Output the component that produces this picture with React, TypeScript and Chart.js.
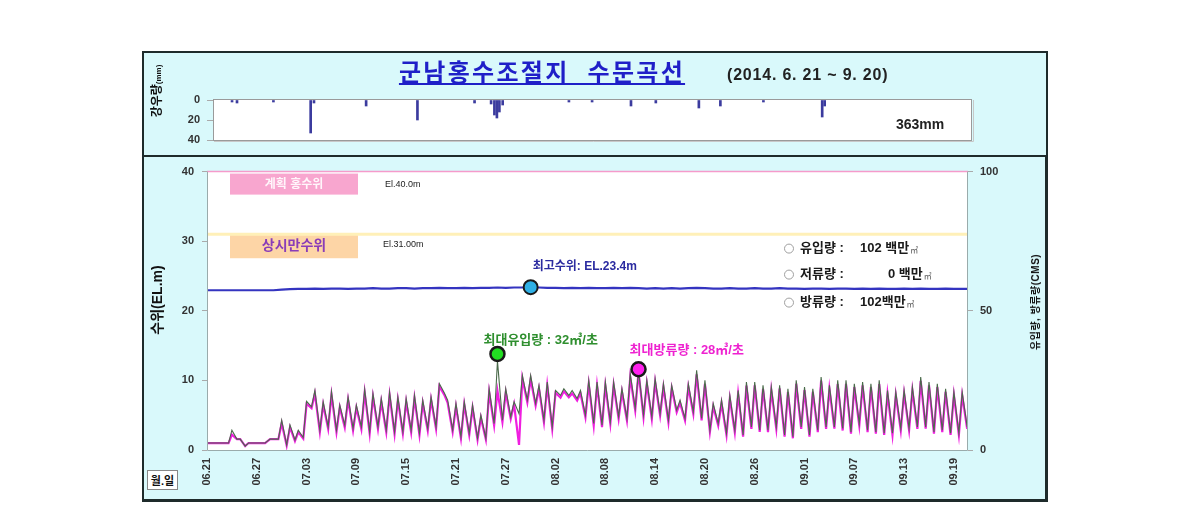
import React, { useEffect, useRef } from 'react';
import { Chart, registerables } from 'chart.js';

Chart.register(...registerables);

const FONT = "'Liberation Sans', 'Noto Sans CJK KR', sans-serif";
const BG = '#d9f9fb';

// x values are days since 06.21 00:00
const DAY_MAX = 91.7;
const LOW_OFFSET = 0.6;

const dateLabels = ['06.21', '06.27', '07.03', '07.09', '07.15', '07.21', '07.27', '08.02', '08.08', '08.14', '08.20', '08.26', '09.01', '09.07', '09.13', '09.19'];
const dateTickDays = [0, 6, 12, 18, 24, 30, 36, 42, 48, 54, 60, 66, 72, 78, 84, 90];

// rainfall (mm)
const rainTime = [2.3, 2.9, 7.3, 11.8, 12.2, 18.5, 24.7, 31.6, 33.6, 34.0, 34.3, 34.6, 35.0, 43.0, 45.8, 50.5, 53.5, 58.7, 61.3, 66.5, 73.6, 73.9];
const rainMm = [2, 3, 2, 33, 3, 6, 20, 3, 4, 15, 18, 12, 5, 2, 2, 6, 3, 8, 6, 2, 17, 6];
const rainTotalLabel = '363mm';

// water level (EL.m)
const planFloodLevel = 40;
const normalHighLevel = 31;
const levelDaily = [
  22.95, 22.95, 22.95, 22.95, 22.95, 22.95, 22.95, 22.95, 22.95, 23.05,
  23.1, 23.15, 23.15, 23.2, 23.15, 23.2, 23.2, 23.15, 23.2, 23.2,
  23.25, 23.2, 23.2, 23.25, 23.25, 23.2, 23.25, 23.25, 23.3, 23.25,
  23.25, 23.3, 23.25, 23.3, 23.3, 23.35, 23.3, 23.35, 23.35, 23.4,
  23.35, 23.3, 23.3, 23.25, 23.3, 23.25, 23.3, 23.25, 23.25, 23.3,
  23.25, 23.3, 23.25, 23.2, 23.25, 23.2, 23.25, 23.2, 23.25, 23.3,
  23.25, 23.2, 23.2, 23.25, 23.2, 23.2, 23.25, 23.2, 23.2, 23.25,
  23.2, 23.2, 23.15, 23.2, 23.2, 23.15, 23.2, 23.2, 23.15, 23.2,
  23.15, 23.2, 23.15, 23.15, 23.2, 23.15, 23.2, 23.15, 23.15, 23.2,
  23.15, 23.15,
];

// inflow / outflow (CMS): daily high (at day start) and daily low
const inflowPeak = [
  2.5, 2.5, 2.5, 7.1, 3.9, 2.5, 2.5, 2.5, 3.9, 10.7,
  9.0, 7.1, 17.5, 21.4, 17.3, 21.0, 16.1, 19.0, 16.1, 21.8,
  20.2, 18.5, 20.8, 19.0, 18.5, 19.6, 17.9, 19.0, 23.8, 17.9,
  16.7, 17.3, 16.1, 12.5, 22.0, 32.0, 22.0, 17.3, 26.8, 26.8,
  23.2, 24.4, 21.4, 22.0, 21.4, 21.4, 25.0, 24.4, 24.4, 24.4,
  22.0, 27.4, 28.6, 25.0, 25.6, 23.8, 23.2, 17.9, 23.8, 28.6,
  25.0, 16.7, 17.9, 19.6, 21.4, 24.4, 24.4, 23.2, 22.6, 23.2,
  22.0, 25.0, 22.6, 22.0, 26.2, 23.2, 25.0, 25.0, 23.8, 24.4,
  23.8, 25.0, 21.4, 20.8, 21.4, 22.6, 26.2, 24.4, 23.8, 22.0,
  20.8, 20.8,
];
const inflowLow = [
  2.5, 2.5, 2.5, 3.9, 1.4, 2.5, 2.5, 3.9, 3.9, 1.8,
  3.6, 4.5, 15.5, 7.1, 8.3, 7.1, 8.9, 7.7, 8.3, 6.5,
  8.3, 7.1, 6.5, 6.5, 7.1, 6.0, 7.7, 8.3, 20.5, 7.1,
  4.8, 6.0, 4.2, 4.2, 9.5, 10.7, 11.9, 13.0, 18.0, 16.7,
  10.7, 8.3, 19.6, 19.6, 18.5, 12.5, 9.5, 8.9, 10.1, 11.9,
  11.3, 15.0, 12.5, 11.9, 13.1, 10.7, 14.3, 11.3, 13.7, 11.3,
  7.1, 9.5, 6.0, 7.1, 5.4, 8.3, 7.1, 7.1, 8.3, 5.4,
  4.8, 8.3, 5.4, 7.1, 8.3, 8.3, 7.7, 6.5, 9.5, 7.1,
  6.5, 6.0, 6.0, 7.7, 7.7, 8.3, 8.3, 6.5, 7.1, 6.0,
  6.0, 8.3,
];
const outflowPeak = [
  2.5, 2.5, 2.5, 5.5, 3.9, 2.5, 2.5, 2.5, 3.9, 9.6,
  8.2, 6.4, 16.6, 20.2, 16.3, 19.8, 15.4, 18.1, 15.2, 20.6,
  19.1, 17.4, 19.7, 18.0, 17.3, 18.6, 16.8, 18.1, 22.9, 16.9,
  15.6, 16.4, 15.1, 11.6, 20.7, 21.2, 20.6, 16.4, 25.7, 25.4,
  22.1, 23.2, 20.6, 21.1, 20.3, 20.4, 23.7, 23.2, 23.1, 23.3,
  20.9, 26.1, 28.0, 23.9, 24.4, 22.6, 22.1, 16.9, 22.6, 27.2,
  23.8, 15.6, 16.8, 18.5, 20.2, 23.1, 23.2, 22.0, 21.4, 22.1,
  20.8, 23.8, 21.5, 20.9, 24.9, 22.0, 23.7, 23.8, 22.6, 23.2,
  22.6, 23.7, 20.2, 19.7, 20.3, 21.4, 24.8, 23.2, 22.6, 20.9,
  19.7, 19.6,
];
const outflowLow = [
  2.5, 2.5, 2.5, 3.9, 1.4, 2.5, 2.5, 3.9, 3.9, 1.6,
  3.2, 4.1, 15.0, 6.5, 7.6, 6.4, 8.1, 7.0, 7.5, 5.9,
  7.6, 6.5, 5.8, 5.9, 6.4, 5.4, 7.0, 7.6, 19.8, 6.5,
  4.2, 5.4, 3.7, 3.8, 8.8, 10.0, 11.2, 1.8, 17.1, 15.9,
  10.0, 7.6, 18.8, 18.9, 17.8, 11.8, 8.8, 8.2, 9.4, 11.2,
  10.6, 14.2, 11.8, 11.2, 12.4, 10.0, 13.6, 10.6, 13.0, 10.6,
  6.5, 8.8, 5.4, 6.4, 4.8, 7.6, 6.5, 6.4, 7.6, 4.8,
  4.2, 7.6, 4.8, 6.4, 7.6, 7.7, 7.0, 5.9, 8.8, 6.4,
  5.9, 5.4, 5.4, 7.0, 7.1, 7.6, 7.7, 5.9, 6.4, 5.4,
  5.4, 7.6,
];

// peak markers: [max level, max inflow, max outflow]
const peakMarkDay = [39, 35, 52];
const peakMarkValue = [23.4, 34.5, 29.0];
const peakMarkLabel = ['최고수위: EL.23.4m', '최대유입량 : 32㎥/초', '최대방류량 : 28㎥/초'];

const volumeNames = ['유입량 :', '저류량 :', '방류량 :'];
const volumeValues = ['102 백만', '0 백만', '102백만'];

function buildFlow(peak: number[], low: number[]) {
  const out: { x: number; y: number }[] = [];
  for (let d = 0; d < peak.length; d++) {
    out.push({ x: d, y: peak[d] });
    out.push({ x: d + LOW_OFFSET, y: low[d] });
  }
  return out;
}

const mainDecor = {
  id: 'mainDecor',
  beforeDraw(chart: any) {
    const { ctx, chartArea: a } = chart;
    ctx.save();
    ctx.fillStyle = '#ffffff';
    ctx.fillRect(a.left, a.top, a.right - a.left, a.bottom - a.top);
    ctx.restore();
  },
  beforeDatasetsDraw(chart: any) {
    const { ctx, chartArea: a, scales } = chart;
    const yPlan = scales.y.getPixelForValue(planFloodLevel);
    const yNormal = scales.y.getPixelForValue(normalHighLevel);
    ctx.save();
    ctx.fillStyle = '#f8a6cf';
    ctx.fillRect(a.left + 23, yPlan + 2, 128, 21);
    ctx.fillStyle = '#fdd5a6';
    ctx.fillRect(a.left + 23, yNormal - 1, 128, 25);
    ctx.textAlign = 'center';
    ctx.textBaseline = 'middle';
    ctx.font = `bold 12px ${FONT}`;
    ctx.fillStyle = '#fff6fb';
    ctx.fillText('계획 홍수위', a.left + 87, yPlan + 13);
    ctx.font = `bold 14px ${FONT}`;
    ctx.fillStyle = '#8a3db8';
    ctx.fillText('상시만수위', a.left + 87, yNormal + 12);
    ctx.textAlign = 'left';
    ctx.font = `9px ${FONT}`;
    ctx.fillStyle = '#222';
    ctx.fillText('El.40.0m', a.left + 178, yPlan + 13);
    ctx.fillText('El.31.00m', a.left + 176, yNormal + 10);

    // volume summary
    const rowY = [77, 103, 131];
    const valueX = [-108, -80, -108];
    for (let i = 0; i < volumeNames.length; i++) {
      const yy = a.top + rowY[i];
      ctx.beginPath();
      ctx.arc(a.right - 179, yy, 4.5, 0, Math.PI * 2);
      ctx.fillStyle = '#fff';
      ctx.fill();
      ctx.strokeStyle = '#a0a0a0';
      ctx.lineWidth = 1;
      ctx.stroke();
      ctx.fillStyle = '#1a1a1a';
      ctx.font = `bold 13px ${FONT}`;
      ctx.fillText(volumeNames[i], a.right - 168, yy);
      ctx.fillText(volumeValues[i], a.right + valueX[i], yy);
      const w = ctx.measureText(volumeValues[i]).width;
      ctx.font = `8px ${FONT}`;
      ctx.fillStyle = '#555';
      ctx.fillText('㎥', a.right + valueX[i] + w + 1, yy + 2);
    }
    ctx.restore();
  },
  afterDatasetsDraw(chart: any) {
    const { ctx, chartArea: a, scales } = chart;
    ctx.save();
    ctx.strokeStyle = '#9aabab';
    ctx.lineWidth = 1;
    ctx.beginPath();
    ctx.moveTo(a.left + 0.5, a.top);
    ctx.lineTo(a.left + 0.5, a.bottom + 0.5);
    ctx.lineTo(a.right - 0.5, a.bottom + 0.5);
    ctx.lineTo(a.right - 0.5, a.top);
    ctx.stroke();

    const axes = ['y', 'y2', 'y2'];
    const dx = [2, -14, -9];
    const dy = [-20, -14, -19];
    const colors = ['#2b2ba0', '#2f8f2f', '#ee22d0'];
    const sizes = [12, 13, 13];
    ctx.textAlign = 'left';
    ctx.textBaseline = 'middle';
    for (let i = 0; i < peakMarkLabel.length; i++) {
      const px = scales.x.getPixelForValue(peakMarkDay[i]);
      const py = scales[axes[i]].getPixelForValue(peakMarkValue[i]);
      ctx.font = `bold ${sizes[i]}px ${FONT}`;
      ctx.fillStyle = colors[i];
      ctx.fillText(peakMarkLabel[i], px + dx[i], py + dy[i]);
    }
    ctx.restore();
  },
};

const topDecor = {
  id: 'topDecor',
  beforeDraw(chart: any) {
    const { ctx, chartArea: a } = chart;
    ctx.save();
    ctx.fillStyle = '#ffffff';
    ctx.fillRect(a.left, a.top - 1, a.right - a.left, a.bottom - a.top + 1);
    ctx.restore();
  },
  afterDatasetsDraw(chart: any) {
    const { ctx, chartArea: a } = chart;
    ctx.save();
    ctx.strokeStyle = '#9a9a9a';
    ctx.lineWidth = 1;
    ctx.strokeRect(a.left + 0.5, a.top - 0.5, a.right - a.left - 1, a.bottom - a.top + 1);
    ctx.strokeStyle = '#c8c8c8';
    ctx.beginPath();
    ctx.moveTo(a.left + 1, a.bottom + 1.5);
    ctx.lineTo(a.right + 1.5, a.bottom + 1.5);
    ctx.lineTo(a.right + 1.5, a.top);
    ctx.stroke();
    ctx.restore();
  },
};

const tickFont = { family: FONT, size: 11, weight: 'bold' as const };

export default function App() {
  const topRef = useRef<HTMLCanvasElement | null>(null);
  const mainRef = useRef<HTMLCanvasElement | null>(null);

  useEffect(() => {
    if (!topRef.current || !mainRef.current) return;

    const rainChart = new Chart(topRef.current, {
      type: 'bar',
      data: {
        datasets: [
          {
            data: rainTime.map((t, i) => ({ x: t, y: rainMm[i] })) as any,
            backgroundColor: '#3b3b9e',
            barThickness: 2,
          },
        ],
      },
      options: {
        responsive: false,
        animation: false,
        layout: { padding: { top: 48, bottom: 15, left: 0, right: 75 } },
        plugins: { legend: { display: false }, tooltip: { enabled: false } },
        scales: {
          x: { type: 'linear', min: 0, max: DAY_MAX, display: false, offset: false },
          y: {
            min: 0,
            max: 40,
            reverse: true,
            ticks: { stepSize: 20, padding: 7, color: '#333', font: tickFont },
            grid: { drawOnChartArea: false, tickLength: 6, color: '#aaa' },
            border: { display: false },
            afterFit: (s: any) => {
              s.width = 70;
            },
          },
        },
      },
      plugins: [topDecor],
    } as any);

    const mainChart = new Chart(mainRef.current, {
      type: 'line',
      data: {
        datasets: [
          {
            label: '최고수위',
            data: [{ x: peakMarkDay[0], y: peakMarkValue[0] }],
            yAxisID: 'y',
            showLine: false,
            pointRadius: 7,
            pointBackgroundColor: '#2fb0e6',
            pointBorderColor: '#1a1a1a',
            pointBorderWidth: 2,
          },
          {
            label: '최대유입량',
            data: [{ x: peakMarkDay[1], y: peakMarkValue[1] }],
            yAxisID: 'y2',
            showLine: false,
            pointRadius: 7,
            pointBackgroundColor: '#22dd22',
            pointBorderColor: '#1a1a1a',
            pointBorderWidth: 2.5,
          },
          {
            label: '최대방류량',
            data: [{ x: peakMarkDay[2], y: peakMarkValue[2] }],
            yAxisID: 'y2',
            showLine: false,
            pointRadius: 7,
            pointBackgroundColor: '#ff22ee',
            pointBorderColor: '#1a1a1a',
            pointBorderWidth: 2.5,
          },
          {
            label: '수위',
            data: [
              ...levelDaily.map((v, d) => ({ x: d, y: v })),
              { x: DAY_MAX, y: levelDaily[levelDaily.length - 1] },
            ],
            yAxisID: 'y',
            borderColor: '#3434c0',
            borderWidth: 2.2,
            pointRadius: 0,
          },
          {
            label: '유입량',
            data: buildFlow(inflowPeak, inflowLow),
            yAxisID: 'y2',
            borderColor: '#4a6a4a',
            borderWidth: 1.1,
            pointRadius: 0,
          },
          {
            label: '방류량',
            data: buildFlow(outflowPeak, outflowLow),
            yAxisID: 'y2',
            borderColor: '#f01ee0',
            borderWidth: 2.2,
            pointRadius: 0,
          },
          {
            label: '계획홍수위',
            data: [
              { x: 0, y: planFloodLevel },
              { x: DAY_MAX, y: planFloodLevel },
            ],
            yAxisID: 'y',
            borderColor: '#f59bcb',
            borderWidth: 1.5,
            pointRadius: 0,
            clip: false,
          },
          {
            label: '상시만수위',
            data: [
              { x: 0, y: normalHighLevel },
              { x: DAY_MAX, y: normalHighLevel },
            ],
            yAxisID: 'y',
            borderColor: '#fff0b8',
            borderWidth: 3,
            pointRadius: 0,
          },
        ],
      },
      options: {
        responsive: false,
        animation: false,
        layout: { padding: { top: 13, bottom: 0, left: 0, right: 0 } },
        plugins: { legend: { display: false }, tooltip: { enabled: false } },
        elements: { line: { tension: 0 } },
        scales: {
          x: {
            type: 'linear',
            min: 0,
            max: DAY_MAX,
            afterBuildTicks: (s: any) => {
              s.ticks = dateTickDays.map((v) => ({ value: v }));
            },
            afterFit: (s: any) => {
              s.height = 50;
            },
            ticks: {
              autoSkip: false,
              minRotation: 90,
              maxRotation: 90,
              padding: 8,
              color: '#333',
              font: tickFont,
              callback: (v: any) => {
                const i = dateTickDays.indexOf(Number(v));
                return i >= 0 ? dateLabels[i] : '';
              },
            },
            grid: { display: false, drawTicks: false },
            border: { display: false },
          },
          y: {
            position: 'left',
            min: 0,
            max: 40,
            ticks: { stepSize: 10, padding: 8, color: '#333', font: tickFont },
            grid: { drawOnChartArea: false, tickLength: 5, color: '#aaa' },
            border: { display: false },
            afterFit: (s: any) => {
              s.width = 64;
            },
          },
          y2: {
            position: 'right',
            min: 0,
            max: 100,
            ticks: { stepSize: 50, padding: 7, color: '#333', font: tickFont },
            grid: { drawOnChartArea: false, tickLength: 5, color: '#aaa' },
            border: { display: false },
            afterFit: (s: any) => {
              s.width = 79;
            },
          },
        },
      },
      plugins: [mainDecor],
    } as any);

    return () => {
      rainChart.destroy();
      mainChart.destroy();
    };
  }, []);

  const abs = { position: 'absolute' as const };
  const rot = (x: number, y: number) => ({
    ...abs,
    left: x,
    top: y,
    transform: 'translate(-50%, -50%) rotate(-90deg)',
    whiteSpace: 'nowrap' as const,
    fontFamily: FONT,
    fontWeight: 'bold' as const,
    color: '#111',
    lineHeight: 1,
  });

  return (
    <div>
      <div style={{ ...abs, left: 142, top: 51, width: 906, height: 106, background: BG, border: '2px solid #1e2b2b', boxSizing: 'border-box' }} />
      <div style={{ ...abs, left: 142, top: 155, width: 906, height: 347, background: BG, border: '2px solid #1e2b2b', borderRightWidth: 3, borderBottomWidth: 3, boxSizing: 'border-box' }} />
      <canvas ref={topRef} width={904} height={103} style={{ ...abs, left: 143, top: 52, width: 904, height: 103 }} />
      <canvas ref={mainRef} width={904} height={343} style={{ ...abs, left: 143, top: 157, width: 904, height: 343 }} />

      <div
        style={{
          ...abs,
          left: 542,
          top: 73,
          transform: 'translate(-50%, -50%)',
          whiteSpace: 'pre',
          fontFamily: FONT,
          fontWeight: 'bold',
          fontSize: 24,
          letterSpacing: 2.3,
          color: '#1f1fc8',
          textDecoration: 'underline',
          lineHeight: 1,
        }}
      >
        군남홍수조절지  수문곡선
      </div>
      <div style={{ ...abs, left: 727, top: 67, whiteSpace: 'pre', fontFamily: FONT, fontWeight: 'bold', fontSize: 16, letterSpacing: 0.8, color: '#222', lineHeight: 1 }}>
        (2014. 6. 21 ~ 9. 20)
      </div>
      <div style={{ ...rot(157, 91), fontSize: 12 }}>
        강우량<span style={{ fontSize: 8 }}>(mm)</span>
      </div>
      <div style={{ ...abs, left: 896, top: 117, fontFamily: FONT, fontWeight: 'bold', fontSize: 14, color: '#222', lineHeight: 1 }}>
        {rainTotalLabel}
      </div>
      <div style={{ ...rot(157, 300), fontSize: 14 }}>수위(EL.m)</div>
      <div style={{ ...rot(1036, 302), fontSize: 10, letterSpacing: 0.5 }}>유입량, 방류량(CMS)</div>
      <div
        style={{
          ...abs,
          left: 147,
          top: 470,
          width: 31,
          height: 20,
          background: '#fff',
          border: '1px solid #888',
          boxSizing: 'border-box',
          fontFamily: FONT,
          fontWeight: 'bold',
          fontSize: 11,
          color: '#111',
          display: 'flex',
          alignItems: 'center',
          justifyContent: 'center',
          whiteSpace: 'nowrap',
        }}
      >
        월.일
      </div>
    </div>
  );
}
